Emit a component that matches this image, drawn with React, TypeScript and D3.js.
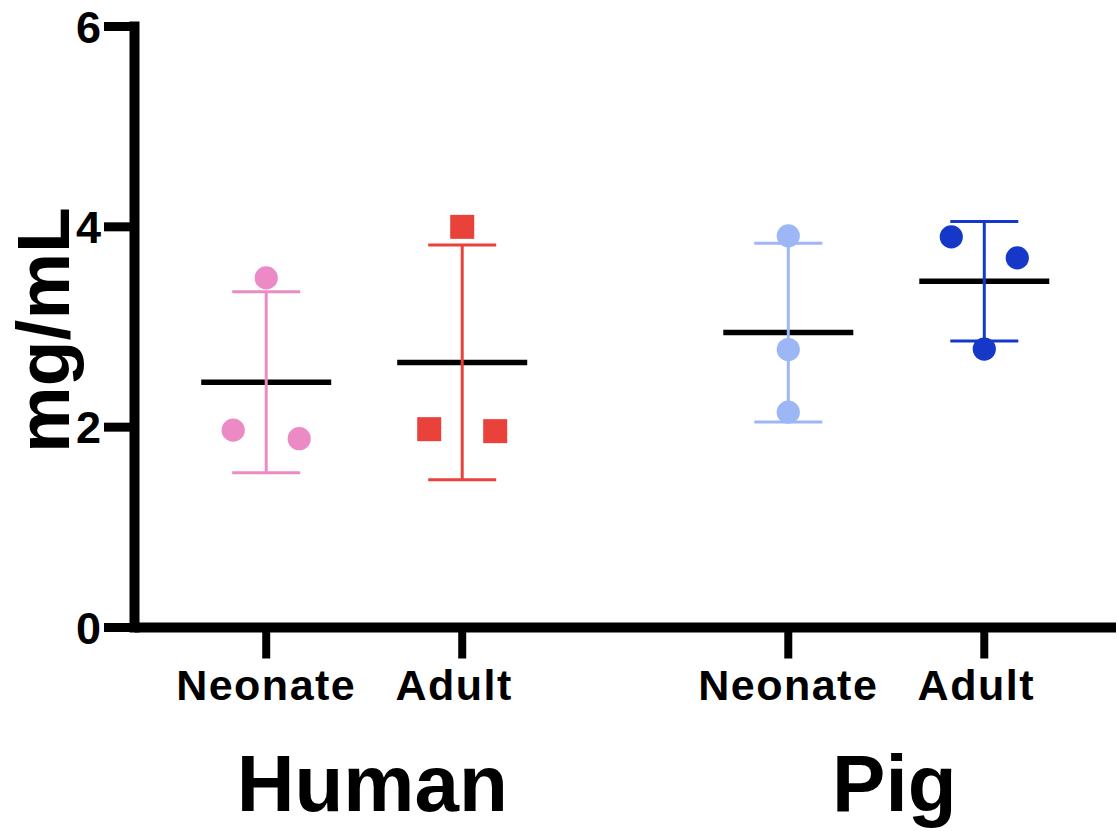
import React from "react";
import * as d3 from "d3";

// Plasma concentration (mg/mL) by species and age group
const species = ["Human", "Pig"];
const ages = ["Neonate", "Adult"];
const yTicks = [0, 2, 4, 6];

const humanNeonate = [3.49, 1.97, 1.885];
const humanAdult = [4.0, 1.98, 1.96];
const pigNeonate = [3.91, 2.775, 2.15];
const pigAdult = [3.9, 3.69, 2.78];

// horizontal scatter slot of each replicate (-1 left, 0 centre, 1 right)
const humanNeonateSlots = [0, -1, 1];
const humanAdultSlots = [0, -1, 1];
const pigNeonateSlots = [0, 0, 0];
const pigAdultSlots = [-1, 1, 0];

const groups = [
  { species: "Human", age: "Neonate", values: humanNeonate, slots: humanNeonateSlots, color: "#ec8ac6", shape: "circle" },
  { species: "Human", age: "Adult", values: humanAdult, slots: humanAdultSlots, color: "#e8423a", shape: "square" },
  { species: "Pig", age: "Neonate", values: pigNeonate, slots: pigNeonateSlots, color: "#9db6f6", shape: "circle" },
  { species: "Pig", age: "Adult", values: pigAdult, slots: pigAdultSlots, color: "#1538c9", shape: "circle" },
];

const W = 1118;
const H = 831;
const x0 = 134.5;
const x1 = 1116;
const font = "'Liberation Sans', Arial, Helvetica, sans-serif";

export default function App() {
  const y = d3.scaleLinear().domain([0, 6]).range([627.5, 26.5]);
  const xSpecies = d3.scalePoint<string>().domain(species).range([x0, x1]).padding(0.44);
  const xAge = d3.scalePoint<string>().domain(ages).range([-98, 98]);
  const xOf = (s: string, a: string) => (xSpecies(s) as number) + (xAge(a) as number);
  const jitter = 33;
  const meanHalf = 65;
  const capHalf = 34;
  const r = 11.6;
  const sq = 24;

  return (
    <svg width={W} height={H} style={{ position: "absolute", left: 0, top: 0, background: "#fff" }}
      fontFamily={font} fontWeight="bold">
      {/* axes */}
      <line x1={x0} x2={x0} y1={y(6) - 5} y2={y(0) + 5} stroke="#000" strokeWidth={10} />
      <line x1={x0} x2={x1} y1={y(0)} y2={y(0)} stroke="#000" strokeWidth={10} />
      {yTicks.map((t) => (
        <g key={t}>
          <line x1={x0 - 30.5} x2={x0} y1={y(t)} y2={y(t)} stroke="#000" strokeWidth={9} />
          <text x={101} y={y(t)} dy="0.36em" textAnchor="end" fontSize={45}>{t}</text>
        </g>
      ))}
      {groups.map((g) => {
        const cx = xOf(g.species, g.age);
        return (
          <g key={g.species + g.age}>
            <line x1={cx} x2={cx} y1={y(0)} y2={y(0) + 31} stroke="#000" strokeWidth={8} />
            <text x={cx} dx={g.age === "Adult" ? -8 : 0} y={700} textAnchor="middle" fontSize={43} letterSpacing={1.5}>{g.age}</text>
          </g>
        );
      })}
      {species.map((s) => (
        <text key={s} x={(xSpecies(s) as number) + 8} y={811} textAnchor="middle" fontSize={80}>{s}</text>
      ))}
      <text transform={`translate(69,330) rotate(-90)`} textAnchor="middle" fontSize={75}>mg/mL</text>

      {/* mean ± SD with individual points */}
      {groups.map((g) => {
        const cx = xOf(g.species, g.age);
        const m = d3.mean(g.values) as number;
        const sd = d3.deviation(g.values) as number;
        return (
          <g key={"d" + g.species + g.age}>
            <line x1={cx - meanHalf} x2={cx + meanHalf} y1={y(m)} y2={y(m)} stroke="#000" strokeWidth={5.5} />
            <line x1={cx} x2={cx} y1={y(m + sd)} y2={y(m - sd)} stroke={g.color} strokeWidth={3} />
            <line x1={cx - capHalf} x2={cx + capHalf} y1={y(m + sd)} y2={y(m + sd)} stroke={g.color} strokeWidth={3} />
            <line x1={cx - capHalf} x2={cx + capHalf} y1={y(m - sd)} y2={y(m - sd)} stroke={g.color} strokeWidth={3} />
            {g.values.map((v, i) => {
              const px = cx + g.slots[i] * jitter;
              return g.shape === "square" ? (
                <rect key={i} x={px - sq / 2} y={y(v) - sq / 2} width={sq} height={sq} fill={g.color} />
              ) : (
                <circle key={i} cx={px} cy={y(v)} r={r} fill={g.color} />
              );
            })}
          </g>
        );
      })}
    </svg>
  );
}
